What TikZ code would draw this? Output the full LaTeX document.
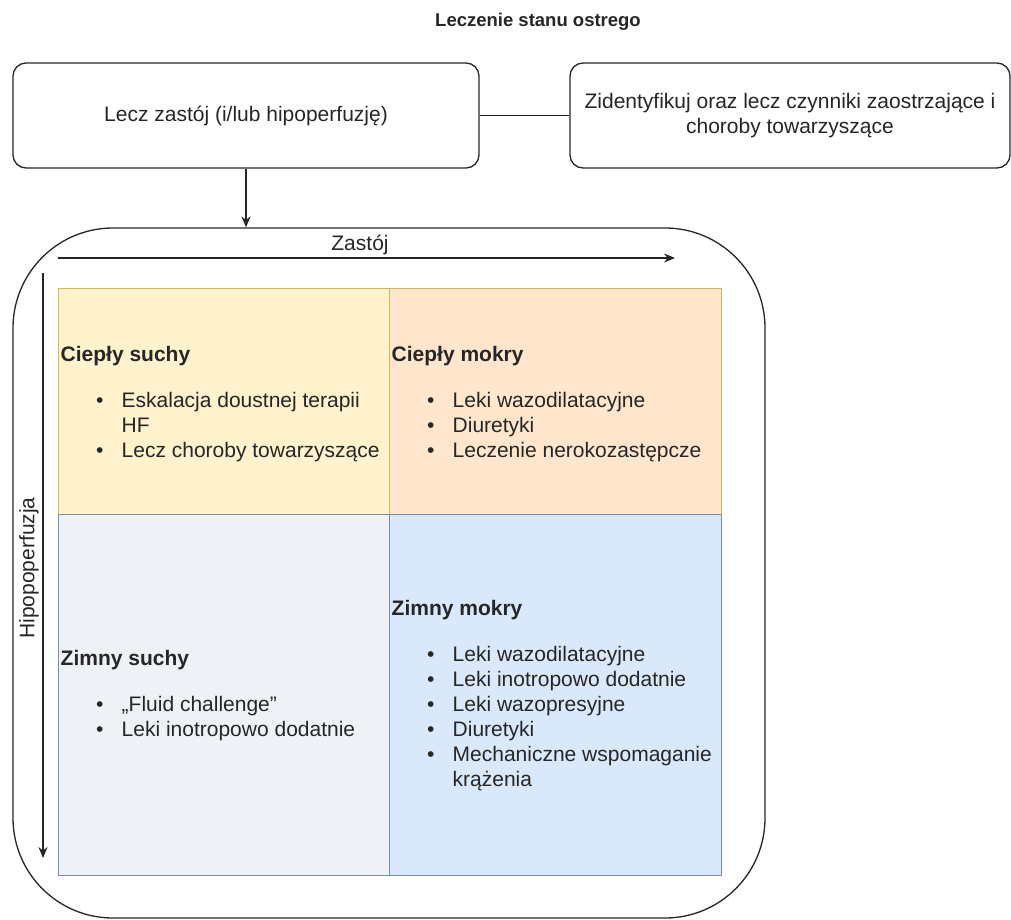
\documentclass[tikz,border=0pt]{standalone}
\usepackage{fontspec}
\setmainfont{Liberation Sans}
\usetikzlibrary{arrows.meta}

\definecolor{inkline}{HTML}{262626}
\definecolor{inktext}{HTML}{262626}
\definecolor{warmdryfill}{HTML}{FFF2CC}
\definecolor{warmwetfill}{HTML}{FFE6CC}
\definecolor{colddryfill}{HTML}{EEF2F7}
\definecolor{coldwetfill}{HTML}{DAE8FC}
\definecolor{warmstroke}{HTML}{D6B656}
\definecolor{coldstroke}{HTML}{7D8CA3}

% bullet list helpers: dot indent and hanging text indent
\newcommand{\qbul}{\hspace*{35.5pt}\makebox[25.5pt][l]{\textbullet}}
\newcommand{\qcont}{\hspace*{61pt}}

\begin{document}
\begin{tikzpicture}[x=1pt,y=-1pt,
  every node/.style={text=inktext},
  bodyfont/.style={font=\fontsize{21}{25}\selectfont},
  topbox/.style={draw=inkline, line width=1.3pt, rounded corners=13pt,
    bodyfont, align=center, inner sep=0pt},
  frame/.style={draw=inkline, line width=1.3pt, rounded corners=100pt, inner sep=0pt},
  quad/.style={line width=1pt, inner sep=0pt},
  qtext/.style={bodyfont, align=left, anchor=west, inner sep=0pt},
  link/.style={draw=inkline, line width=1.3pt},
  axis/.style={draw=inkline, line width=1.3pt, -{Stealth[length=11pt,width=9pt]}},
]
\useasboundingbox (0,0) rectangle (1011,920);

% heading
\node[font=\fontsize{18.5}{22}\selectfont\bfseries] (title) at (538,22) {Leczenie stanu ostrego};

% two top boxes joined by a plain line
\node[topbox, minimum width=466pt, minimum height=105pt] (treat) at (246,115.5)
  {Lecz zastój (i/lub hipoperfuzję)};
\node[topbox, minimum width=440pt, minimum height=105pt] (ident) at (790,115.5)
  {Zidentyfikuj oraz lecz czynniki zaostrzające i\\choroby towarzyszące};
\draw[link] (treat.east) -- (ident.west);

% large rounded frame holding the four profiles
\node[frame, minimum width=752pt, minimum height=690pt] (frame) at (389,573) {};
\draw[axis] (treat.south) -- (treat.south |- frame.north);

% quadrants
\node[quad, fill=warmdryfill, draw=warmstroke, minimum width=331pt, minimum height=226pt] (wd) at (223.5,401) {};
\node[quad, fill=warmwetfill, draw=warmstroke, minimum width=332pt, minimum height=226pt] (ww) at (555,401) {};
\node[quad, fill=colddryfill, draw=coldstroke, minimum width=331pt, minimum height=361pt] (cd) at (223.5,694.5) {};
\node[quad, fill=coldwetfill, draw=coldstroke, minimum width=332pt, minimum height=361pt] (cw) at (555,694.5) {};

% axes
\coordinate (hx0) at (58,258);
\coordinate (hx1) at (675,258);
\coordinate (vy0) at (43,273);
\coordinate (vy1) at (43,858);
\draw[axis] (hx0) -- (hx1);
\draw[axis] (vy0) -- (vy1);
\node[bodyfont] (xlabel) at (360,245) {Zastój};
\node[bodyfont, rotate=90] (ylabel) at (29,568) {Hipopoperfuzja};

% quadrant texts
\node[qtext] (wdtext) at ([xshift=3pt,yshift=-3pt]wd.west)
  {\textbf{Ciepły suchy}\\[21pt]
   \qbul Eskalacja doustnej terapii\\
   \qcont HF\\
   \qbul Lecz choroby towarzyszące};
\node[qtext] (wwtext) at ([xshift=3pt,yshift=-3pt]ww.west)
  {\textbf{Ciepły mokry}\\[21pt]
   \qbul Leki wazodilatacyjne\\
   \qbul Diuretyki\\
   \qbul Leczenie nerokozastępcze};
\node[qtext] (cdtext) at ([xshift=3pt,yshift=-1pt]cd.west)
  {\textbf{Zimny suchy}\\[21pt]
   \qbul „Fluid challenge”\\
   \qbul Leki inotropowo dodatnie};
\node[qtext] (cwtext) at ([xshift=3pt,yshift=-1pt]cw.west)
  {\textbf{Zimny mokry}\\[21pt]
   \qbul Leki wazodilatacyjne\\
   \qbul Leki inotropowo dodatnie\\
   \qbul Leki wazopresyjne\\
   \qbul Diuretyki\\
   \qbul Mechaniczne wspomaganie\\
   \qcont krążenia};
\end{tikzpicture}
\end{document}
